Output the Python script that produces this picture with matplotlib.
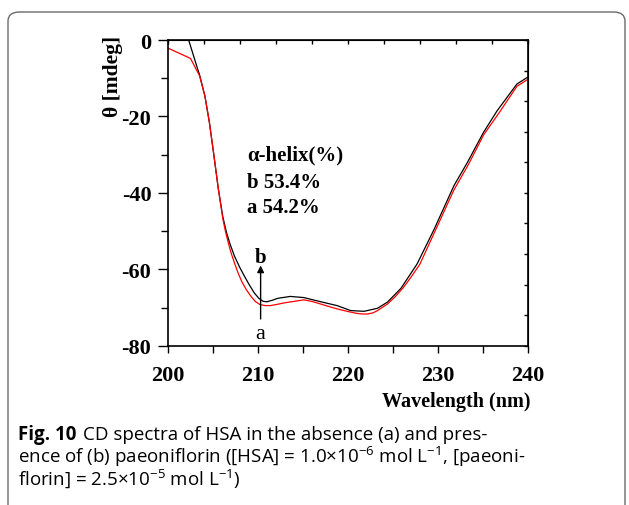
import numpy as np
import matplotlib
matplotlib.use('Agg')
from matplotlib import pyplot as plt
from matplotlib.patches import FancyBboxPatch

plt.rcParams['font.family'] = ['Liberation Serif', 'DejaVu Serif']
plt.rcParams['mathtext.fontset'] = 'custom'
plt.rcParams['mathtext.rm'] = 'Open Sans'
plt.rcParams['axes.unicode_minus'] = False

#%% data
# curve b: HSA + paeoniflorin (black)
wl_b = [202.0, 202.3, 203.3, 203.5, 204.1, 204.6, 205.1, 205.6, 206.1, 206.5, 206.9,
        207.4, 208.0, 208.5, 209.0, 209.6, 210.1, 210.6, 211.0, 211.6, 212.2, 213.6,
        215.1, 217.0, 218.8, 220.3, 221.8, 223.3, 224.4, 225.9, 227.7, 229.6, 231.8,
        233.3, 235.1, 236.6, 238.8, 240.0]
cd_b = [2.3, 0.0, -7.6, -9.0, -14.6, -21.5, -30.1, -39.0, -46.3, -50.3, -53.4,
        -56.6, -59.6, -61.8, -63.9, -66.2, -67.6, -68.4, -68.5, -68.1, -67.6, -67.1,
        -67.4, -68.5, -69.5, -70.8, -71.0, -70.2, -68.6, -65.0, -58.6, -49.5, -38.1,
        -32.0, -24.1, -18.5, -11.5, -9.7]

# curve a: HSA alone (red)
wl_a = [200.0, 202.5, 203.5, 204.1, 204.6, 205.1, 205.6, 206.1, 206.4, 206.7, 207.0,
        207.4, 207.8, 208.2, 208.7, 209.2, 209.7, 210.2, 210.8, 211.4, 212.1, 212.9,
        214.0, 215.1, 216.0, 217.0, 218.1, 219.2, 220.1, 220.9, 221.6, 222.2, 222.8,
        223.3, 224.4, 225.3, 226.2, 227.1, 228.0, 229.6, 231.8, 233.4, 235.1, 236.8,
        238.8, 240.0]
cd_a = [-2.1, -4.8, -9.3, -14.6, -21.5, -30.1, -39.0, -46.8, -50.2, -53.0, -55.6,
        -58.4, -61.0, -63.2, -65.3, -67.0, -68.4, -69.2, -69.5, -69.5, -69.2, -68.8,
        -68.4, -68.0, -68.4, -69.1, -69.9, -70.6, -71.1, -71.5, -71.7, -71.7, -71.4,
        -70.8, -69.1, -67.1, -64.7, -61.8, -58.7, -50.5, -39.2, -32.6, -24.8, -19.1,
        -12.1, -10.3]

helix_labels = ['b 53.4%', 'a 54.2%']

#%% plot
fig = plt.figure(figsize=(6.29, 5.06), dpi=100)
fig.patches.append(FancyBboxPatch((8/629, -0.1), 617/629, 0.1 + 1 - 13/506,
                                  boxstyle='round,pad=0,rounding_size=0.018',
                                  transform=fig.transFigure, fill=False,
                                  edgecolor='#6a6a6a', lw=1.0, clip_on=False))

ax = fig.add_axes([168/629, 1 - 346.7/506, 359.7/629, 305.6/506])
ax.plot(wl_b, cd_b, color='black', lw=0.9)
ax.plot(wl_a, cd_a, color='red', lw=0.9)
ax.set_xlim(200, 240)
ax.set_ylim(-80, 0)

ax.set_xticks(np.arange(200, 241, 10))
ax.set_xticks(np.arange(200, 241, 5), minor=True)
ax.set_yticks(np.arange(-80, 1, 20))
ax.set_yticks(np.arange(-80, 1, 10), minor=True)
ax.tick_params(which='both', direction='out', top=False, right=False, width=1.0)
ax.tick_params(axis='x', which='major', length=5, pad=9, labelsize=16)
ax.tick_params(axis='x', which='minor', length=5)
ax.tick_params(axis='y', which='major', length=7, pad=5, labelsize=16)
ax.tick_params(axis='y', which='minor', length=5)
for lab in ax.get_xticklabels() + ax.get_yticklabels():
    lab.set_fontweight('bold')
for s in ax.spines.values():
    s.set_linewidth(1.2)

top = ax.secondary_xaxis('top')
top.set_xticks(np.arange(200, 241, 4))
top.tick_params(direction='in', length=3, labeltop=False, width=1.0)
right = ax.secondary_yaxis('right')
right.set_yticks(np.arange(-80, 1, 8))
right.tick_params(direction='in', length=3, labelright=False, width=1.0)

fig.text(530/629, 1 - 402/506, 'Wavelength (nm)', ha='right', va='center',
         fontsize=14.5, fontweight='bold')
fig.text(113/629, 1 - 76/506, r'θ [mdeg]', rotation=90, ha='center', va='center',
         fontsize=15.5, fontweight='bold')

ax.text(208.8, -29.9, 'α-helix(%)', fontsize=15, fontweight='bold', va='center')
ax.text(208.8, -37.2, helix_labels[0], fontsize=15, fontweight='bold', va='center')
ax.text(208.8, -43.7, helix_labels[1], fontsize=15, fontweight='bold', va='center')

ax.annotate('', xy=(210.3, -59.0), xytext=(210.3, -73.0),
            arrowprops=dict(arrowstyle='-|>', color='black', lw=1.0,
                            mutation_scale=10, shrinkA=0, shrinkB=0))
ax.text(210.3, -56.9, 'b', fontsize=15, fontweight='bold', ha='center', va='center')
ax.text(210.3, -76.7, 'a', fontsize=16, ha='center', va='center')

#%% caption
cap = dict(family=['Open Sans', 'DejaVu Sans'], fontsize=13.5, va='baseline')
t = fig.text(18/629, 1 - 440/506, 'Fig. 10', fontweight='bold', **cap)
fig.canvas.draw()
bb = t.get_window_extent()
fig.text((bb.x1 + 7)/629, 1 - 440/506,
         'CD spectra of HSA in the absence (a) and pres-', **cap)
fig.text(18/629, 1 - 463/506,
         r'ence of (b) paeoniflorin ([HSA] = 1.0$\times$10$^{-6}$ mol L$^{-1}$, [paeoni-',
         **cap)
fig.text(18/629, 1 - 486/506,
         r'florin] = 2.5$\times$10$^{-5}$ mol L$^{-1}$)', **cap)

fig.savefig('out.png', dpi=100)
